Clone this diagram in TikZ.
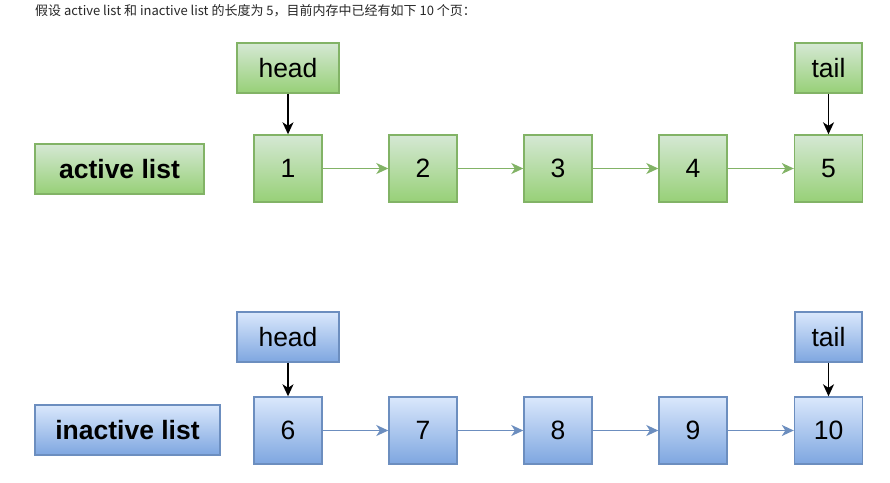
\documentclass[tikz,border=0pt]{standalone}
\usepackage{fontspec}
\setmainfont{Liberation Sans}
\newfontfamily\cjk{Noto Sans CJK SC}
\usetikzlibrary{arrows.meta}
\definecolor{gstroke}{HTML}{82B366}
\definecolor{gtop}{HTML}{D5E8D4}
\definecolor{gbot}{HTML}{97D077}
\definecolor{bstroke}{HTML}{6C8EBF}
\definecolor{btop}{HTML}{DAE8FC}
\definecolor{bbot}{HTML}{7EA6E0}
\tikzset{
  gbox/.style={draw=gstroke, line width=1.4pt, top color=gtop, bottom color=gbot, inner sep=0pt, font=\fontsize{26.5}{26.5}\selectfont},
  bbox/.style={draw=bstroke, line width=1.4pt, top color=btop, bottom color=bbot, inner sep=0pt, font=\fontsize{26.5}{26.5}\selectfont},
  cell/.style={minimum width=68pt, minimum height=67pt},
  ptr/.style={minimum width=102pt, minimum height=50pt},
  ptrs/.style={minimum width=67pt, minimum height=50pt},
  garr/.style={draw=gstroke, line width=1.5pt, -{Stealth[length=12pt,width=11pt,inset=3.5pt]}},
  barr/.style={draw=bstroke, line width=1.5pt, -{Stealth[length=12pt,width=11pt,inset=3.5pt]}},
  karr/.style={draw=black, line width=1.5pt, -{Stealth[length=12pt,width=11pt,inset=3.5pt]}},
}
\begin{document}
\begin{tikzpicture}[x=1pt,y=-1pt]
\useasboundingbox (0,0) rectangle (890,482);
\node[anchor=base west, inner sep=0pt, font=\cjk\fontsize{13}{13}\selectfont, text=black!85] (title) at (35,15) {假设 active list 和 inactive list 的长度为 5，目前内存中已经有如下 10 个页：};
% active
\node[gbox, minimum width=169pt, minimum height=50pt, font=\bfseries\fontsize{26.5}{26.5}\selectfont] (al) at (119.5,169) {active list};
\node[gbox, ptr] (ah) at (288,68) {head};
\node[gbox, ptrs] (at) at (828.5,68) {tail};
\node[gbox, cell] (a1) at (288,168.5) {1};
\node[gbox, cell] (a2) at (423,168.5) {2};
\node[gbox, cell] (a3) at (558,168.5) {3};
\node[gbox, cell] (a4) at (693,168.5) {4};
\node[gbox, cell] (a5) at (828.5,168.5) {5};
\draw[garr] (a1) -- (a2);
\draw[garr] (a2) -- (a3);
\draw[garr] (a3) -- (a4);
\draw[garr] (a4) -- (a5);
\draw[karr] (ah) -- (a1);
\draw[karr] (at) -- (a5);
% inactive
\node[bbox, minimum width=185pt, minimum height=50pt, font=\bfseries\fontsize{26.5}{26.5}\selectfont] (il) at (127.5,430) {inactive list};
\node[bbox, ptr] (ih) at (288,337) {head};
\node[bbox, ptrs] (it) at (828.5,337) {tail};
\node[bbox, cell] (i1) at (288,430.5) {6};
\node[bbox, cell] (i2) at (423,430.5) {7};
\node[bbox, cell] (i3) at (558,430.5) {8};
\node[bbox, cell] (i4) at (693,430.5) {9};
\node[bbox, cell] (i5) at (828.5,430.5) {10};
\draw[barr] (i1) -- (i2);
\draw[barr] (i2) -- (i3);
\draw[barr] (i3) -- (i4);
\draw[barr] (i4) -- (i5);
\draw[karr] (ih) -- (i1);
\draw[karr] (it) -- (i5);
\end{tikzpicture}
\end{document}
